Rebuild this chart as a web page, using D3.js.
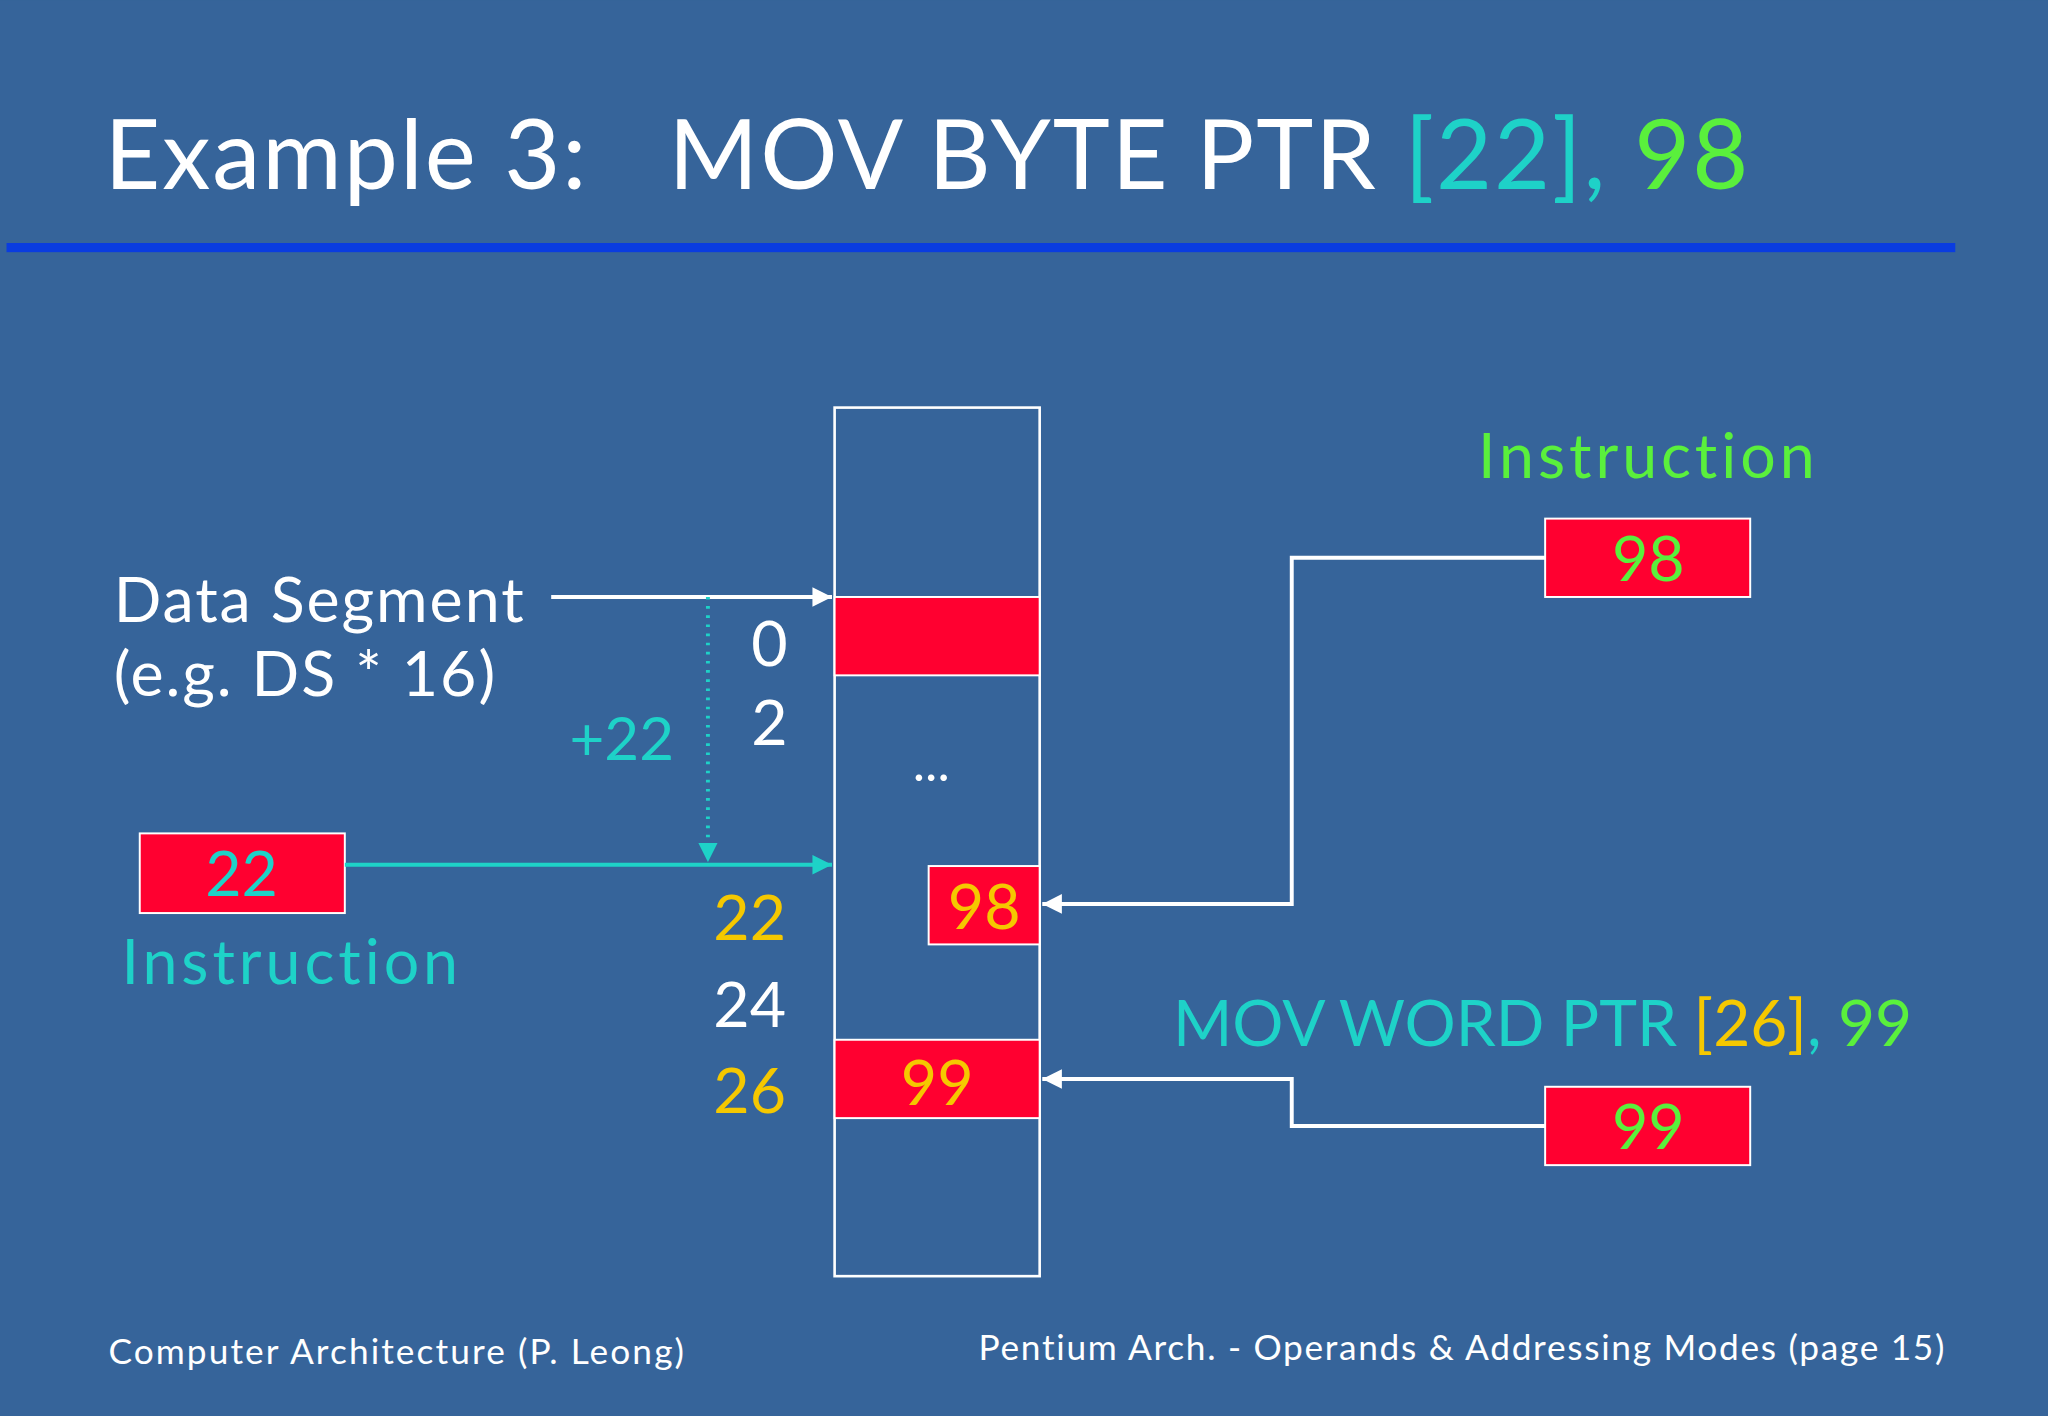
<!DOCTYPE html>
<html><head><meta charset="utf-8">
<script src="https://cdn.jsdelivr.net/npm/d3@7"></script>
<style>body{margin:0;background:#36649a}svg{display:block}text{white-space:pre}</style>
</head><body>
<svg id="chart" width="2048" height="1416" viewBox="0 0 1568 1084"></svg>
<script>
// memory offsets shown left of the box
var offsetLabels = ["0", "2", "22", "24", "26"];
var offsetRows = [0, 1, 3.5, 4.6, 5.7];
var offsetColors = ["white", "white", "#f5c800", "white", "#f5c800"];
// cells drawn in memory
var cellRows = [0, 3.4, 5.6];
var cellValues = ["", "98", "99"];
var cellIndent = [0, 1, 0];
var cellTextColors = ["#f5c800", "#f5c800", "#f5c800"];

var red = "#ff0030", green = "#5af03c", cyan = "#1ed2c8", yellow = "#f5c800";
var font = "'Comic Sans MS','Lato','Noto Sans',sans-serif";

var svg = d3.select("#chart");
var defs = svg.append("defs");
[["aw", "white"], ["ac", cyan]].forEach(function (m) {
  defs.append("marker").attr("id", m[0]).attr("viewBox", "0 0 10 10").attr("refX", 10).attr("refY", 5)
    .attr("markerWidth", 5).attr("markerHeight", 5).attr("orient", "auto")
    .append("path").attr("d", "M0,0L10,5L0,10z").attr("fill", m[1]);
});

svg.append("rect").attr("width", 1568).attr("height", 1084).attr("fill", "#36649a");

var title = svg.append("text").attr("x", 80).attr("y", 145).attr("font-size", 74).attr("font-family", font)
  .attr("letter-spacing", 1.5).attr("fill", "white");
title.append("tspan").text("Example 3:   MOV BYTE PTR ");
title.append("tspan").attr("fill", cyan).text("[22], ");
title.append("tspan").attr("fill", green).text("98");
svg.append("rect").attr("x", 5).attr("y", 186).attr("width", 1492).attr("height", 7).attr("fill", "#0a3ce0");

// row scale: memory rows
var y = d3.scaleLinear().domain([0, 1]).range([457, 517]);
var boxX = 639, boxW = 157;
svg.append("rect").attr("x", boxX).attr("y", 312).attr("width", boxW).attr("height", 665)
  .attr("fill", "none").attr("stroke", "white").attr("stroke-width", 2);

cellRows.forEach(function (r, i) {
  var x0 = boxX + (cellIndent[i] ? 72 : 0);
  svg.append("rect").attr("x", x0).attr("y", y(r) + (i == 1 ? 2 : 0) + (i == 2 ? 3 : 0)).attr("width", boxX + boxW - x0).attr("height", 60)
    .attr("fill", red).attr("stroke", "white").attr("stroke-width", 1.5);
  svg.append("text").attr("x", (x0 + boxX + boxW) / 2).attr("y", y(r) + 50 + (i == 2 ? 3 : 0)).attr("text-anchor", "middle")
    .attr("font-size", 48).attr("font-family", font).attr("fill", cellTextColors[i]).text(cellValues[i]);
});
svg.append("text").attr("x", 713).attr("y", 598).attr("text-anchor", "middle").attr("font-size", 40).attr("fill", "white").attr("font-family", font).text("...");

offsetLabels.forEach(function (t, i) {
  svg.append("text").attr("x", i < 2 ? 589 : 574).attr("y", y(offsetRows[i]) + 53).attr("text-anchor", "middle")
    .attr("font-size", 48).attr("font-family", font).attr("fill", offsetColors[i]).text(t);
});

// data segment
svg.append("text").attr("x", 87).attr("y", 476).attr("font-size", 48).attr("letter-spacing", 1.5).attr("font-family", font).attr("fill", "white").text("Data Segment");
svg.append("text").attr("x", 87).attr("y", 533).attr("font-size", 48).attr("letter-spacing", 1.5).attr("font-family", font).attr("fill", "white").text("(e.g. DS * 16)");
svg.append("line").attr("x1", 422).attr("y1", 457).attr("x2", 637).attr("y2", 457).attr("stroke", "white").attr("stroke-width", 3).attr("marker-end", "url(#aw)");
svg.append("line").attr("x1", 542).attr("y1", 457).attr("x2", 542).attr("y2", 660).attr("stroke", cyan).attr("stroke-width", 3)
  .attr("stroke-dasharray", "2,5").attr("marker-end", "url(#ac)");
svg.append("text").attr("x", 476).attr("y", 582).attr("text-anchor", "middle").attr("font-size", 46).attr("font-family", font).attr("fill", cyan).text("+22");

// left instruction
svg.append("rect").attr("x", 107).attr("y", 638).attr("width", 157).attr("height", 61).attr("fill", red).attr("stroke", "white").attr("stroke-width", 1.5);
svg.append("text").attr("x", 185).attr("y", 686).attr("text-anchor", "middle").attr("font-size", 48).attr("font-family", font).attr("fill", cyan).text("22");
svg.append("line").attr("x1", 264).attr("y1", 662).attr("x2", 637).attr("y2", 662).attr("stroke", cyan).attr("stroke-width", 3).attr("marker-end", "url(#ac)");
svg.append("text").attr("x", 93).attr("y", 753).attr("font-size", 48).attr("letter-spacing", 3).attr("font-family", font).attr("fill", cyan).text("Instruction");

// right instruction 98
svg.append("text").attr("x", 1262).attr("y", 366).attr("text-anchor", "middle").attr("font-size", 48).attr("letter-spacing", 3).attr("font-family", font).attr("fill", green).text("Instruction");
svg.append("rect").attr("x", 1183).attr("y", 397).attr("width", 157).attr("height", 60).attr("fill", red).attr("stroke", "white").attr("stroke-width", 1.5);
svg.append("text").attr("x", 1262).attr("y", 445).attr("text-anchor", "middle").attr("font-size", 48).attr("font-family", font).attr("fill", green).text("98");
svg.append("path").attr("d", "M1183,427H989V692H798").attr("fill", "none").attr("stroke", "white").attr("stroke-width", 3).attr("marker-end", "url(#aw)");

// MOV WORD PTR
var mw = svg.append("text").attr("x", 898).attr("y", 801).attr("font-size", 49).attr("font-family", font).attr("fill", cyan);
mw.append("tspan").text("MOV WORD PTR ");
mw.append("tspan").attr("fill", yellow).text("[26]");
mw.append("tspan").attr("fill", cyan).text(", ");
mw.append("tspan").attr("fill", green).text("99");
svg.append("rect").attr("x", 1183).attr("y", 832).attr("width", 157).attr("height", 60).attr("fill", red).attr("stroke", "white").attr("stroke-width", 1.5);
svg.append("text").attr("x", 1262).attr("y", 880).attr("text-anchor", "middle").attr("font-size", 48).attr("font-family", font).attr("fill", green).text("99");
svg.append("path").attr("d", "M1183,862H989V826H798").attr("fill", "none").attr("stroke", "white").attr("stroke-width", 3).attr("marker-end", "url(#aw)");

// footer
svg.append("text").attr("x", 83).attr("y", 1044).attr("font-size", 27).attr("letter-spacing", 1.6).attr("font-family", font).attr("fill", "white").text("Computer Architecture (P. Leong)");
svg.append("text").attr("x", 1490).attr("y", 1041).attr("text-anchor", "end").attr("font-size", 27).attr("letter-spacing", 1.3).attr("font-family", font).attr("fill", "white").text("Pentium Arch. - Operands & Addressing Modes (page 15)");
</script>
</body></html>
